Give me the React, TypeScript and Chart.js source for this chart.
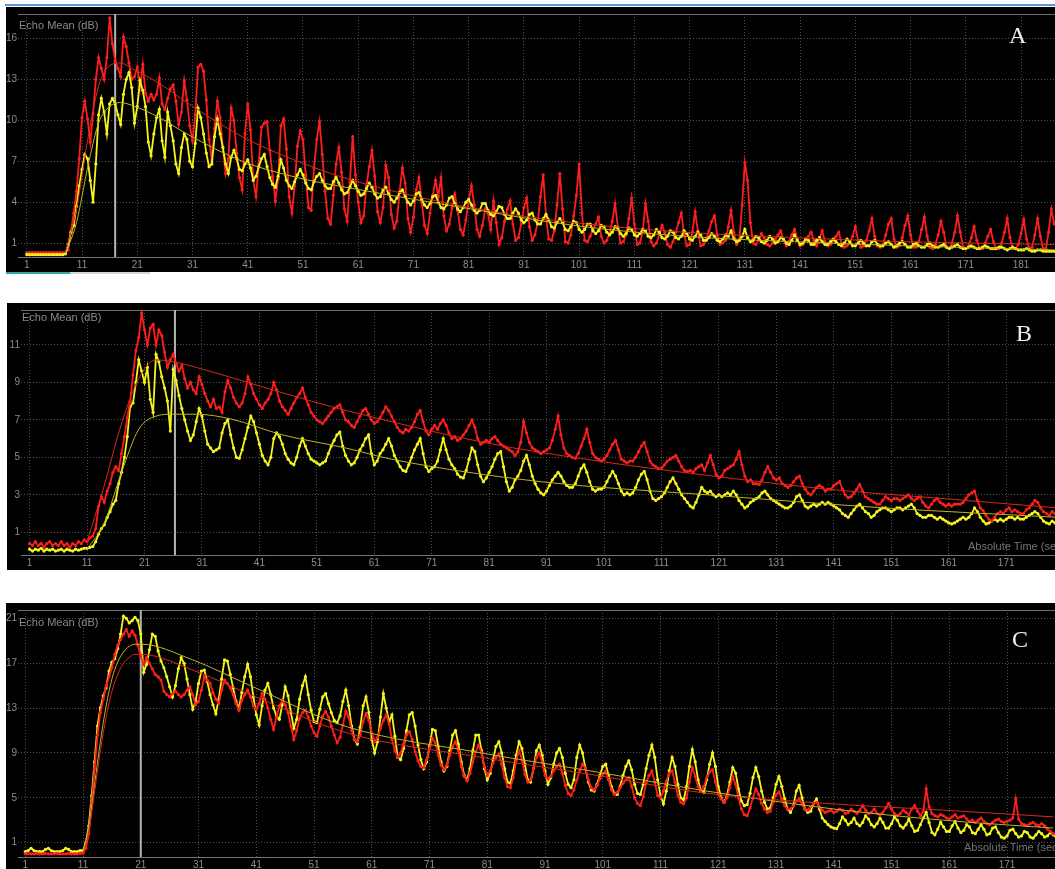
import React, { useEffect, useRef } from "react";
import { Chart, registerables } from "chart.js";
Chart.register(...registerables);

// sampling grid of the recorded traces (seconds)
const T0 = 1;
const DT = 0.5;

// ---------- Panel A ----------
const xTicksA = [1, 11, 21, 31, 41, 51, 61, 71, 81, 91, 101, 111, 121, 131, 141, 151, 161, 171, 181];
const yTicksA = [1, 4, 7, 10, 13, 16];
const redA = [
  0.3,0.3,0.3,0.3,0.3,0.3,0.3,0.3,0.3,0.3,
  0.3,0.3,0.3,0.3,0.3,0.5,1.9,3.2,4.8,7.2,
  10.2,11.4,10.1,8.4,10.5,13.0,14.6,13.8,13.0,14.6,
  17.5,15.6,14.4,13.8,13.2,16.1,15.4,14.2,13.0,13.2,
  13.9,12.4,14.1,12.0,11.4,11.9,11.5,11.9,13.1,11.2,
  10.8,11.6,12.3,12.6,11.4,9.7,10.6,12.9,11.5,9.6,
  8.5,10.4,13.9,14.1,13.6,11.5,8.6,7.1,9.4,11.4,
  10.2,8.0,6.1,7.2,10.9,10.0,7.6,5.8,4.9,9.0,
  11.2,9.3,5.6,4.4,6.8,9.5,9.8,9.9,7.8,5.9,
  4.1,5.7,9.6,10.1,7.9,4.4,3.2,5.2,8.1,9.2,
  8.6,6.0,3.6,3.4,6.5,8.6,9.9,7.5,4.8,2.8,
  2.4,4.5,6.8,8.0,6.2,3.5,2.6,5.5,8.8,6.0,
  4.0,2.5,3.0,5.2,6.6,7.8,5.9,3.3,2.5,3.6,
  6.7,5.8,3.1,2.1,2.6,4.8,6.5,5.4,2.8,1.8,
  2.9,4.9,5.8,4.0,2.3,1.7,3.2,4.5,5.6,4.4,
  5.8,3.0,1.9,2.4,3.6,4.6,3.4,2.0,1.6,2.7,
  4.1,5.2,3.8,2.0,1.5,2.3,3.5,3.2,2.0,4.1,
  2.5,0.9,1.4,2.6,3.5,4.1,2.4,1.2,1.4,2.4,
  3.6,4.3,2.2,1.2,1.6,2.5,4.4,6.0,3.0,1.3,
  1.2,1.9,3.8,6.1,3.5,1.1,1.0,1.6,3.0,4.5,
  6.8,3.2,1.2,1.1,1.5,2.0,2.4,2.9,1.5,1.0,
  1.2,1.7,2.6,3.9,2.2,1.0,1.1,1.6,2.8,4.3,
  2.4,0.9,1.0,1.8,3.9,2.6,1.1,0.8,1.0,1.6,
  2.3,1.8,0.9,0.7,1.1,1.8,2.5,3.2,1.6,0.8,
  0.9,1.8,3.3,1.9,0.8,0.9,1.3,1.9,2.6,3.0,
  1.6,0.9,1.0,1.2,2.2,3.4,1.8,0.9,1.2,3.8,
  6.9,5.6,2.5,1.0,0.9,1.2,1.7,1.4,0.9,0.8,
  1.0,1.3,1.6,1.9,1.2,0.8,1.1,1.6,2.0,1.3,
  0.8,0.9,1.2,1.5,1.8,1.2,0.8,1.3,1.9,1.1,
  0.8,0.9,1.2,1.5,1.8,1.0,0.7,0.8,1.0,1.5,
  2.2,1.2,0.7,0.8,1.2,1.9,2.8,1.5,0.8,0.7,
  0.9,1.6,2.4,2.8,1.3,0.7,0.8,1.4,2.3,3.0,
  1.6,0.7,0.7,1.1,2.0,2.9,1.5,0.7,0.6,0.9,
  1.6,2.6,1.8,0.7,0.6,1.0,1.8,3.0,1.8,0.7,
  0.6,0.8,1.4,2.2,1.2,0.6,0.6,1.0,1.5,2.0,
  1.1,0.6,0.6,1.0,1.8,2.8,1.4,0.6,0.6,0.9,
  1.7,2.7,1.3,0.6,0.7,1.6,2.8,1.5,0.6,0.6,
  1.8,3.5,2.4,
];
const yellowA = [
  0.15,0.15,0.15,0.15,0.15,0.15,0.15,0.15,0.15,0.15,
  0.15,0.15,0.15,0.15,0.2,0.9,1.8,2.3,3.7,5.2,
  6.4,7.5,7.2,5.6,4.0,6.8,10.4,11.6,10.6,9.0,
  11.2,11.6,11.2,10.4,9.7,11.9,13.0,13.5,12.4,9.8,
  11.0,12.9,12.2,11.0,8.4,7.4,9.0,10.2,10.8,8.5,
  7.3,10.6,9.6,8.5,6.8,6.1,8.0,9.0,8.6,7.0,
  6.6,8.3,10.9,10.2,9.0,7.6,6.6,6.8,8.8,10.1,
  9.0,8.0,6.8,6.1,7.3,7.8,7.2,6.4,6.3,6.8,
  7.1,6.5,5.6,5.9,6.6,7.2,7.5,6.6,5.8,5.3,
  5.1,5.9,7.1,6.5,5.6,5.2,5.0,5.5,6.0,6.4,
  6.0,5.4,5.0,4.9,5.5,5.9,6.1,5.6,5.2,5.0,
  5.0,5.5,5.8,5.4,4.9,4.6,4.7,5.1,5.6,5.2,
  4.8,4.5,4.6,5.0,5.4,5.1,4.6,4.3,4.4,4.9,
  5.1,4.6,4.2,4.0,4.3,4.7,4.9,4.4,4.0,3.8,
  4.1,4.6,4.7,4.2,3.8,3.6,3.9,4.4,4.5,4.0,
  3.6,3.5,3.8,4.3,4.4,3.9,3.5,3.3,3.6,4.0,
  4.2,3.8,3.4,3.2,3.4,3.9,3.9,3.4,3.1,3.0,
  3.3,3.7,3.6,3.1,2.8,2.8,3.2,3.5,3.2,2.7,
  2.5,2.7,3.1,3.2,2.7,2.4,2.4,2.8,3.1,2.7,
  2.2,2.1,2.5,2.8,2.5,2.0,1.9,2.2,2.6,2.5,
  2.0,1.8,2.0,2.4,2.4,1.9,1.7,1.9,2.3,2.2,
  1.8,1.6,1.8,2.2,2.1,1.7,1.5,1.7,2.1,2.0,
  1.6,1.5,1.7,2.0,1.9,1.5,1.4,1.6,2.0,1.8,
  1.4,1.3,1.5,1.9,1.8,1.4,1.3,1.5,1.9,1.7,
  1.3,1.2,1.5,1.8,1.6,1.2,1.2,1.4,1.7,1.5,
  1.2,1.1,1.3,1.6,1.5,1.9,1.3,1.1,1.2,1.5,
  2.0,1.4,1.1,1.2,1.5,1.4,1.1,1.0,1.2,1.5,
  1.3,1.0,1.1,1.4,1.3,1.0,0.9,1.2,1.6,1.2,
  0.9,1.0,1.3,1.2,0.9,0.9,1.2,1.4,1.1,0.9,
  0.9,1.1,1.3,1.1,0.9,0.8,1.0,1.3,1.1,0.8,
  0.8,1.0,1.2,1.0,0.8,0.8,1.1,1.2,0.9,0.8,
  0.8,1.0,1.1,0.9,0.7,0.8,1.0,1.1,0.9,0.7,
  0.7,0.9,1.0,0.8,0.7,0.7,0.9,1.0,0.8,0.7,
  0.7,0.8,0.9,0.7,0.6,0.7,0.8,0.9,0.7,0.6,
  0.6,0.7,0.8,0.7,0.6,0.6,0.7,0.8,0.7,0.6,
  0.6,0.6,0.7,0.7,0.6,0.5,0.6,0.7,0.6,0.5,
  0.5,0.5,0.6,0.5,0.4,0.4,0.5,0.5,0.4,0.4,
  0.4,0.4,0.4,
];
const fitXA = [8, 10, 12, 14, 16, 18, 20, 25, 30, 40, 50, 60, 80, 100, 120, 140, 160, 187];
const fitRedA = [0.3, 3.5, 8.5, 12.5, 14.0, 14.2, 13.8, 12.7, 11.3, 8.8, 7.0, 5.6, 3.7, 2.5, 1.8, 1.4, 1.1, 0.9];
const fitYellowA = [0.2, 2.5, 6.5, 9.8, 11.0, 11.3, 11.1, 10.2, 9.0, 7.0, 5.8, 5.0, 3.6, 2.3, 1.5, 1.1, 0.8, 0.5];

// ---------- Panel B ----------
const xTicksBC = [1, 11, 21, 31, 41, 51, 61, 71, 81, 91, 101, 111, 121, 131, 141, 151, 161, 171];
const yTicksB = [1, 3, 5, 7, 9, 11];
const redB = [
  0.4,0.3,0.5,0.3,0.4,0.2,0.4,0.5,0.3,0.4,
  0.3,0.5,0.3,0.4,0.2,0.4,0.3,0.5,0.4,0.6,
  0.5,0.7,0.8,1.2,2.4,2.9,2.6,3.2,3.6,4.2,
  4.5,4.3,5.2,6.1,7.1,8.0,9.4,10.7,11.4,12.7,
  11.8,11.0,11.9,12.1,11.0,11.8,11.5,10.6,9.8,10.2,
  10.5,10.0,9.6,9.9,9.2,8.7,9.0,8.6,8.4,9.3,
  8.9,8.4,8.0,7.7,8.1,7.6,7.7,7.4,8.5,9.1,
  8.7,8.2,7.9,7.7,7.9,8.4,9.3,8.9,8.4,8.1,
  7.8,7.6,7.9,8.1,8.4,9.0,8.6,8.0,7.7,7.5,
  7.3,7.6,7.9,8.2,8.4,8.7,8.2,7.8,7.4,7.2,
  7.0,6.9,6.8,7.0,7.2,7.4,7.6,7.7,7.8,7.4,
  7.0,6.9,6.7,6.6,6.9,7.2,7.5,7.6,7.3,7.0,
  6.8,6.9,7.1,7.4,7.7,7.5,7.2,6.9,6.6,6.4,
  6.3,6.5,6.4,6.6,6.9,7.3,7.5,6.9,6.4,6.2,
  6.5,6.7,6.5,6.8,7.0,6.7,6.3,6.0,6.1,5.9,
  6.0,6.2,6.4,6.7,7.0,6.6,6.0,5.7,5.8,5.9,
  5.8,6.0,6.1,5.9,5.7,5.6,5.5,5.4,5.3,5.1,
  5.3,5.8,6.9,6.3,5.8,5.5,5.4,5.3,5.2,5.3,
  5.4,5.5,5.9,6.5,7.2,6.2,5.5,5.2,5.1,5.0,
  4.95,5.2,5.6,6.0,6.5,5.8,5.2,5.0,4.9,4.8,
  4.9,5.1,5.4,5.7,5.9,5.4,4.9,4.8,4.7,4.8,
  4.8,5.0,5.3,5.6,5.8,5.3,4.8,4.6,4.5,4.4,
  4.4,4.6,4.8,4.9,5.0,5.1,4.8,4.5,4.3,4.25,
  4.3,4.2,4.4,4.5,4.6,4.3,4.7,5.1,4.6,4.1,
  3.9,4.0,4.3,4.4,4.5,4.6,4.9,5.3,4.6,4.0,
  3.7,3.8,3.6,3.6,3.55,3.8,4.2,4.5,4.2,3.9,
  3.8,3.9,3.6,3.5,3.4,3.5,3.7,3.9,4.0,3.6,
  3.3,3.1,3.0,3.2,3.4,3.5,3.4,3.2,3.3,3.3,
  3.5,3.6,3.7,3.3,3.0,2.85,2.9,3.1,3.3,3.55,
  3.2,2.9,2.8,2.7,2.6,2.5,2.5,2.7,2.9,2.8,
  2.7,2.8,2.8,2.7,2.8,2.9,3.0,2.8,2.7,2.8,
  2.9,2.6,2.4,2.3,2.5,2.7,2.8,2.6,2.5,2.4,
  2.5,2.4,2.5,2.5,2.5,2.6,2.8,3.0,3.1,3.2,
  2.7,2.3,2.15,1.9,1.7,1.6,1.8,2.0,2.1,2.0,
  2.2,2.3,2.1,2.2,2.1,2.0,2.0,2.2,2.3,2.5,
  2.7,2.6,2.3,2.1,2.0,1.9,2.1,2.0,1.9,2.0,
];
const yellowB = [
  0.1,0.0,0.1,0.05,0.15,0.0,0.1,0.05,0.1,0.0,
  0.05,0.1,0.0,0.1,0.05,0.0,0.1,0.05,0.1,0.15,
  0.15,0.2,0.25,0.5,0.9,1.2,1.4,1.8,2.1,2.5,
  2.7,3.6,4.2,5.0,6.1,7.7,7.9,9.0,10.2,9.6,
  9.0,9.8,8.1,7.4,10.5,10.1,9.3,8.7,8.0,6.4,
  9.7,9.1,8.3,7.6,7.0,6.4,5.9,6.2,6.9,7.6,
  7.2,6.4,5.7,5.5,5.3,5.4,5.5,6.3,6.8,7.0,
  6.2,5.5,5.0,4.95,5.4,6.0,6.6,7.2,6.9,6.3,
  5.7,5.1,4.8,4.6,5.0,6.0,6.3,6.1,5.7,5.2,
  4.9,4.7,4.6,5.0,5.6,6.0,5.6,5.2,4.9,4.8,
  4.7,4.6,4.7,4.8,5.2,5.6,5.9,6.2,6.35,5.6,
  5.1,4.8,4.6,4.7,5.0,5.4,5.65,6.0,6.2,5.2,
  4.6,4.8,5.2,5.4,5.7,6.0,5.6,5.1,4.8,4.5,
  4.3,4.25,4.6,5.0,5.4,5.7,6.0,5.2,4.5,4.25,
  4.4,4.5,4.8,5.4,6.0,5.4,4.9,4.6,4.4,4.1,
  3.95,3.9,4.3,4.9,5.5,5.3,4.6,4.0,3.7,3.9,
  4.2,4.5,4.9,5.2,5.3,4.5,3.7,3.2,3.4,3.8,
  4.0,4.3,4.8,5.1,4.6,4.0,3.6,3.3,3.1,3.0,
  3.2,3.5,3.8,4.0,4.2,4.0,3.7,3.5,3.4,3.4,
  3.6,4.0,4.4,4.6,4.2,3.7,3.3,3.2,3.3,3.3,
  3.4,3.7,4.0,4.25,4.0,3.6,3.2,3.0,3.1,3.0,
  3.1,3.4,3.8,4.1,4.25,3.8,3.2,2.8,2.7,2.8,
  2.9,3.1,3.4,3.7,3.9,3.6,3.3,3.0,2.8,2.6,
  2.4,2.3,2.6,3.0,3.4,3.2,3.1,3.2,3.0,2.9,
  3.0,2.9,3.0,3.1,3.0,3.2,3.0,2.7,2.5,2.3,
  2.4,2.6,2.7,2.8,2.9,3.1,3.2,3.0,2.8,2.7,
  2.6,2.5,2.4,2.3,2.3,2.4,2.6,2.9,3.0,2.7,
  2.4,2.3,2.4,2.5,2.4,2.5,2.6,2.5,2.6,2.5,
  2.4,2.3,2.2,2.0,1.9,1.8,2.0,2.2,2.4,2.5,
  2.3,2.1,2.0,1.8,1.9,2.1,2.2,2.3,2.3,2.2,
  2.1,2.2,2.3,2.3,2.2,2.3,2.4,2.5,2.3,2.0,
  1.9,1.8,1.8,1.9,1.9,1.8,1.7,1.8,1.7,1.6,
  1.5,1.45,1.5,1.6,1.7,1.8,1.7,1.8,2.0,2.3,
  2.1,1.8,1.6,1.45,1.5,1.6,1.7,1.6,1.7,1.6,
  1.7,1.8,1.8,1.7,1.8,1.7,1.7,1.8,1.9,2.0,
  2.1,2.0,1.8,1.6,1.5,1.45,1.6,1.5,1.5,1.6,
];
const fitXRedB = [11, 14, 17, 20, 23, 26, 30, 40, 50, 60, 80, 100, 120, 140, 160, 180];
const fitRedB = [0.5, 3.5, 6.8, 9.2, 10.2, 10.1, 9.8, 8.9, 8.0, 7.2, 5.8, 4.8, 4.0, 3.3, 2.8, 2.3];
const fitXYellowB = [11, 14, 17, 20, 23, 26, 30, 36, 45, 56, 64, 90, 119, 150, 180];
const fitYellowB = [0.1, 1.5, 4.2, 6.5, 7.2, 7.3, 7.3, 7.05, 6.2, 5.5, 4.9, 3.7, 3.0, 2.3, 1.8];

// ---------- Panel C ----------
const yTicksC = [1, 5, 9, 13, 17, 21];
const redC = [
  0.0,0.05,0.0,0.0,0.05,0.0,0.0,0.05,0.0,0.0,
  0.0,0.05,0.0,0.0,0.0,0.05,0.0,0.0,0.0,0.05,
  0.05,0.5,1.8,4.6,7.6,10.6,12.6,13.8,15.0,15.8,
  16.6,17.8,18.6,19.1,19.6,20.0,19.4,19.9,19.5,18.6,
  17.6,16.9,17.5,17.0,16.5,16.0,15.8,15.5,14.5,14.2,
  14.0,14.3,14.5,14.2,14.0,14.2,14.6,14.9,14.2,13.3,
  13.6,14.6,15.8,15.5,15.2,14.4,13.8,13.4,14.6,15.5,
  15.2,14.8,14.2,13.4,12.8,13.7,14.2,14.6,14.0,13.2,
  12.9,13.4,14.3,13.8,13.0,12.0,11.1,12.2,13.2,13.7,
  13.3,12.6,11.4,10.2,11.0,12.1,12.6,12.8,12.2,11.4,
  10.8,10.5,11.4,12.3,12.7,12.2,11.4,10.6,9.9,10.4,
  11.5,12.7,12.2,11.0,10.2,10.0,10.6,11.8,12.5,11.9,
  10.8,10.0,10.4,11.2,11.9,12.4,11.6,10.2,9.2,8.6,
  9.0,9.8,10.6,10.9,10.2,9.1,8.3,7.8,7.7,8.4,
  9.4,10.3,9.9,8.8,7.9,7.5,7.9,8.8,9.6,10.0,
  9.2,7.8,6.9,6.5,7.2,8.2,9.1,9.7,9.0,7.8,
  7.0,7.4,8.1,8.6,8.9,8.0,6.8,6.0,5.9,6.8,
  8.3,9.2,8.4,7.1,6.4,6.6,7.6,8.6,9.0,8.2,
  7.0,6.7,6.9,7.4,7.8,8.0,7.2,6.1,5.4,5.2,
  5.7,6.6,7.4,8.0,7.6,6.6,5.9,5.7,6.1,6.7,
  7.1,7.4,6.6,5.7,5.3,5.5,5.9,6.3,6.6,6.8,
  6.0,5.0,4.5,4.3,5.1,6.3,7.0,7.4,6.4,5.2,
  5.0,5.6,6.5,7.2,7.4,6.4,5.2,4.6,4.45,5.0,
  6.4,7.7,6.9,6.0,5.6,6.0,6.8,7.3,7.5,6.4,
  5.3,4.9,4.6,5.0,5.9,6.9,6.2,5.0,4.0,3.5,
  3.4,4.1,5.0,5.8,5.3,4.5,4.0,3.7,3.8,4.6,
  5.3,5.5,4.9,4.3,4.0,4.0,4.3,4.7,4.9,4.4,
  4.0,3.9,4.2,4.5,4.6,4.2,3.9,3.7,3.8,3.9,
  3.7,3.8,4.0,3.9,3.6,3.7,4.0,3.8,3.6,3.9,
  4.3,3.9,3.6,3.7,4.0,3.6,3.5,3.7,4.1,4.5,
  4.0,3.6,3.4,3.6,3.9,3.7,3.5,4.0,4.3,3.8,
  3.4,3.8,5.8,4.2,3.6,3.4,3.3,3.5,3.4,3.2,
  3.1,3.3,3.5,3.2,3.3,3.4,3.1,2.9,3.0,2.8,
  3.0,3.2,2.9,2.7,2.6,2.8,3.0,3.1,2.9,2.8,
  2.9,3.0,3.2,4.9,3.1,2.7,2.6,2.5,2.7,2.8,
  2.6,2.5,2.7,2.5,2.2,2.0,1.8,1.7,1.8,1.9,
];
const yellowC = [
  0.2,0.3,0.5,0.3,0.2,0.2,0.2,0.4,0.5,0.3,
  0.2,0.2,0.2,0.3,0.5,0.4,0.2,0.2,0.2,0.3,
  0.3,1.0,2.5,5.2,8.2,11.4,13.0,14.1,14.8,16.3,
  17.1,17.4,18.3,19.6,21.2,21.0,20.6,20.8,21.1,20.8,
  19.6,16.2,16.9,18.2,19.6,19.4,18.1,17.2,16.6,15.8,
  14.9,14.0,15.0,16.5,17.5,17.0,15.6,14.2,12.9,13.6,
  15.2,16.3,16.4,15.4,14.2,13.3,12.5,13.8,15.6,17.3,
  17.2,16.0,14.8,13.6,13.0,14.4,15.8,16.9,15.8,14.0,
  12.4,11.5,13.2,14.6,15.2,14.2,13.0,12.3,12.0,13.3,
  14.9,14.1,12.6,11.2,12.0,13.8,15.0,15.8,14.2,12.8,
  11.8,11.7,12.9,14.0,14.3,13.4,12.6,11.9,11.7,12.3,
  13.6,14.6,13.2,11.4,10.2,9.8,11.3,13.2,14.0,12.6,
  10.2,9.0,10.0,12.2,14.3,13.0,11.8,12.4,10.5,8.6,
  8.4,9.4,11.0,12.4,12.6,11.4,9.7,8.4,7.6,8.2,
  9.6,11.1,11.0,9.6,8.2,7.4,7.8,9.2,10.6,11.0,
  9.8,8.2,7.0,6.6,7.6,9.2,10.6,10.6,9.2,7.6,
  6.6,7.2,8.4,9.6,10.0,9.0,7.6,6.4,6.3,7.4,
  8.8,10.0,9.4,8.0,6.6,6.4,7.6,9.2,9.7,8.8,
  7.4,6.2,6.8,8.0,9.0,9.4,8.6,7.2,6.2,5.9,
  6.6,8.6,9.7,9.0,7.6,6.4,5.7,5.6,6.2,7.0,
  7.8,8.0,7.0,6.0,5.4,5.3,6.0,7.0,7.8,8.3,
  7.5,6.2,5.4,5.3,6.2,7.6,8.8,9.7,8.6,6.6,
  5.2,4.45,5.6,7.4,8.6,7.8,6.2,5.0,4.8,6.0,
  7.8,9.3,8.2,6.6,5.6,5.5,6.6,8.0,9.0,7.8,
  6.0,5.0,4.6,5.2,6.4,7.7,7.2,5.8,4.7,4.3,
  4.4,5.4,6.8,7.7,6.9,5.6,4.6,4.0,4.1,5.0,
  6.2,6.9,6.0,4.9,4.0,3.7,4.3,5.6,6.1,5.0,
  4.0,3.7,3.8,4.5,4.9,4.0,3.2,2.9,2.6,2.4,
  2.3,2.25,2.7,3.3,3.0,2.6,2.8,3.2,2.7,2.5,
  2.8,3.4,3.1,2.6,2.4,2.7,3.2,2.8,2.3,2.3,
  2.7,3.3,3.0,2.5,2.3,2.6,3.1,2.5,2.0,2.1,
  2.6,3.2,3.7,2.8,1.9,1.7,2.2,2.8,2.4,2.0,
  2.0,2.5,2.9,2.3,1.9,2.1,2.6,2.4,1.9,1.8,
  2.2,2.6,2.2,1.7,1.8,2.3,2.4,1.9,1.5,1.4,
  1.6,2.1,2.2,1.8,1.5,1.6,2.0,1.9,1.5,1.4,
  1.7,2.0,1.8,1.5,1.6,1.9,1.7,1.5,1.6,1.7,
];
const fitXC = [11, 12, 13, 14, 15, 16, 17, 18, 19, 20, 21, 30, 40, 56.6, 80, 100, 119, 141, 160, 179];
const fitRedC = [0.0, 2.0, 5.5, 9.2, 12.2, 14.5, 16.0, 17.0, 17.5, 17.8, 17.8, 16.4, 14.2, 10.8, 8.6, 7.0, 5.4, 4.45, 3.9, 3.3];
const fitYellowC = [0.2, 2.5, 6.2, 10.0, 13.2, 15.6, 17.1, 18.0, 18.5, 18.7, 18.7, 17.3, 15.0, 11.35, 9.0, 7.3, 5.6, 4.0, 3.0, 2.3];

// cursor positions (seconds)
const cursorA = 17;
const cursorB = 26.3;
const cursorC = 21;

const RED = "#ff1e1e";
const YELLOW = "#f5f51e";
const RED_FIT = "#d8281a";
const YELLOW_FIT = "#bdb520";
const TICK_COLOR = "#8e8e8e";
const GRID_COLOR = "#505050";

const sampled = (values: number[]) => values.map((v, i) => ({ x: T0 + i * DT, y: v }));
const paired = (xs: number[], ys: number[]) => xs.map((x, i) => ({ x, y: ys[i] }));

const overlayPlugin = {
  id: "overlay",
  beforeDatasetsDraw(chart: any, _args: any, opts: any) {
    const { ctx, chartArea } = chart;
    const x = chart.scales.x.getPixelForValue(opts.cursor);
    ctx.save();
    ctx.strokeStyle = "#6e6e6e";
    ctx.lineWidth = 1;
    ctx.beginPath();
    ctx.moveTo(chartArea.left, chartArea.top + 0.5);
    ctx.lineTo(chartArea.right, chartArea.top + 0.5);
    ctx.stroke();
    ctx.strokeStyle = "#b4b4b4";
    ctx.lineWidth = 2;
    ctx.beginPath();
    ctx.moveTo(x, chartArea.top);
    ctx.lineTo(x, chartArea.bottom);
    ctx.stroke();
    ctx.restore();
  },
};

type PanelProps = {
  left: number; top: number; width: number; height: number;
  yWidth: number; xHeight: number; padTop: number;
  xMin: number; xMax: number; yMin: number; yMax: number;
  xTicks: number[]; yTicks: number[];
  cursor: number;
  datasets: any[];
};

function Panel(p: PanelProps) {
  const ref = useRef<HTMLCanvasElement>(null);
  useEffect(() => {
    const tickFont = { family: "'Liberation Sans', Arial, sans-serif", size: 10 };
    const chart = new Chart(ref.current as HTMLCanvasElement, {
      type: "line",
      data: { datasets: p.datasets },
      options: {
        animation: false,
        responsive: false,
        maintainAspectRatio: false,
        events: [],
        layout: { autoPadding: false, padding: { top: p.padTop, left: 0, right: 0, bottom: 0 } },
        plugins: {
          legend: { display: false },
          tooltip: { enabled: false },
          overlay: { cursor: p.cursor },
        } as any,
        scales: {
          x: {
            type: "linear",
            min: p.xMin,
            max: p.xMax,
            afterBuildTicks: (a: any) => { a.ticks = p.xTicks.map((v) => ({ value: v })); },
            afterFit: (s: any) => { s.height = p.xHeight; },
            ticks: { color: TICK_COLOR, font: tickFont, padding: 2, autoSkip: false, maxRotation: 0, minRotation: 0 },
            grid: { color: GRID_COLOR, drawTicks: false, lineWidth: 1 },
            border: { display: true, color: "#747474", width: 1, dash: [1, 2] },
          },
          y: {
            type: "linear",
            min: p.yMin,
            max: p.yMax,
            afterBuildTicks: (a: any) => { a.ticks = p.yTicks.map((v) => ({ value: v })); },
            afterFit: (s: any) => { s.width = p.yWidth; },
            ticks: { color: TICK_COLOR, font: tickFont, padding: 1 },
            grid: { color: GRID_COLOR, drawTicks: false, lineWidth: 1 },
            border: { display: false, dash: [1, 2] },
          },
        },
      } as any,
      plugins: [overlayPlugin],
    });
    return () => chart.destroy();
  }, []);
  return (
    <canvas
      ref={ref}
      width={p.width}
      height={p.height}
      style={{ position: "absolute", left: p.left, top: p.top, width: p.width, height: p.height, background: "#000" }}
    />
  );
}

const dataLine = (values: number[], color: string) => ({
  data: sampled(values),
  borderColor: color,
  backgroundColor: color,
  pointBackgroundColor: color,
  borderWidth: 1.8,
  pointRadius: 1.6,
  pointBorderWidth: 0,
  tension: 0,
  fill: false,
});
const fitLine = (xs: number[], ys: number[], color: string) => ({
  data: paired(xs, ys),
  borderColor: color,
  backgroundColor: color,
  borderWidth: 1,
  pointRadius: 0,
  cubicInterpolationMode: "monotone",
  fill: false,
});

const labelStyle: React.CSSProperties = {
  position: "absolute",
  fontFamily: "'Liberation Sans', Arial, sans-serif",
  fontSize: 11,
  lineHeight: "12px",
  color: "#8a8a8a",
  whiteSpace: "nowrap",
};
const letterStyle: React.CSSProperties = {
  position: "absolute",
  fontFamily: "'Liberation Serif', 'DejaVu Serif', serif",
  fontSize: 24,
  lineHeight: "24px",
  color: "#f2f2f2",
};

export default function App() {
  return (
    <div style={{ position: "fixed", left: 0, top: 0, width: 1055, height: 869, background: "#fff", overflow: "hidden" }}>
      <div style={{ position: "absolute", left: 5, top: 4, width: 1050, height: 2, background: "#5a9ad8" }} />
      <Panel
        left={6} top={7} width={1049} height={265}
        yWidth={12} xHeight={15} padTop={6}
        xMin={-0.59} xMax={187.15} yMin={-0.02} yMax={17.79}
        xTicks={xTicksA} yTicks={yTicksA} cursor={cursorA}
        datasets={[
          fitLine(fitXA, fitYellowA, YELLOW_FIT),
          fitLine(fitXA, fitRedA, RED_FIT),
          dataLine(yellowA, YELLOW),
          dataLine(redA, RED),
        ]}
      />
      <div style={{ position: "absolute", left: 6, top: 272, width: 64, height: 2, background: "#33a6a6" }} />
      <div style={{ position: "absolute", left: 70, top: 272, width: 80, height: 2, background: "#d4d4d4" }} />
      <div style={{ ...labelStyle, left: 19, top: 19 }}>Echo Mean (dB)</div>
      <div style={{ ...letterStyle, left: 1009, top: 23 }}>A</div>

      <Panel
        left={7} top={303} width={1048} height={267}
        yWidth={14} xHeight={15} padTop={3}
        xMin={-0.5} xMax={179.5} yMin={-0.21} yMax={12.86}
        xTicks={xTicksBC} yTicks={yTicksB} cursor={cursorB}
        datasets={[
          fitLine(fitXRedB, fitRedB, RED_FIT),
          fitLine(fitXYellowB, fitYellowB, YELLOW_FIT),
          dataLine(redB, RED),
          dataLine(yellowB, YELLOW),
        ]}
      />
      <div style={{ ...labelStyle, left: 22, top: 311 }}>Echo Mean (dB)</div>
      <div style={{ ...labelStyle, left: 968, top: 540, color: "#747474" }}>Absolute Time (sec)</div>
      <div style={{ ...letterStyle, left: 1016, top: 321 }}>B</div>

      <Panel
        left={6} top={603} width={1049} height={266}
        yWidth={12} xHeight={12} padTop={4}
        xMin={-0.26} xMax={179.3} yMin={-0.28} yMax={21.75}
        xTicks={xTicksBC} yTicks={yTicksC} cursor={cursorC}
        datasets={[
          fitLine(fitXC, fitRedC, RED_FIT),
          fitLine(fitXC, fitYellowC, YELLOW_FIT),
          dataLine(redC, RED),
          dataLine(yellowC, YELLOW),
        ]}
      />
      <div style={{ ...labelStyle, left: 19, top: 616 }}>Echo Mean (dB)</div>
      <div style={{ ...labelStyle, left: 964, top: 841, color: "#747474" }}>Absolute Time (sec)</div>
      <div style={{ ...letterStyle, left: 1012, top: 627 }}>C</div>
    </div>
  );
}
